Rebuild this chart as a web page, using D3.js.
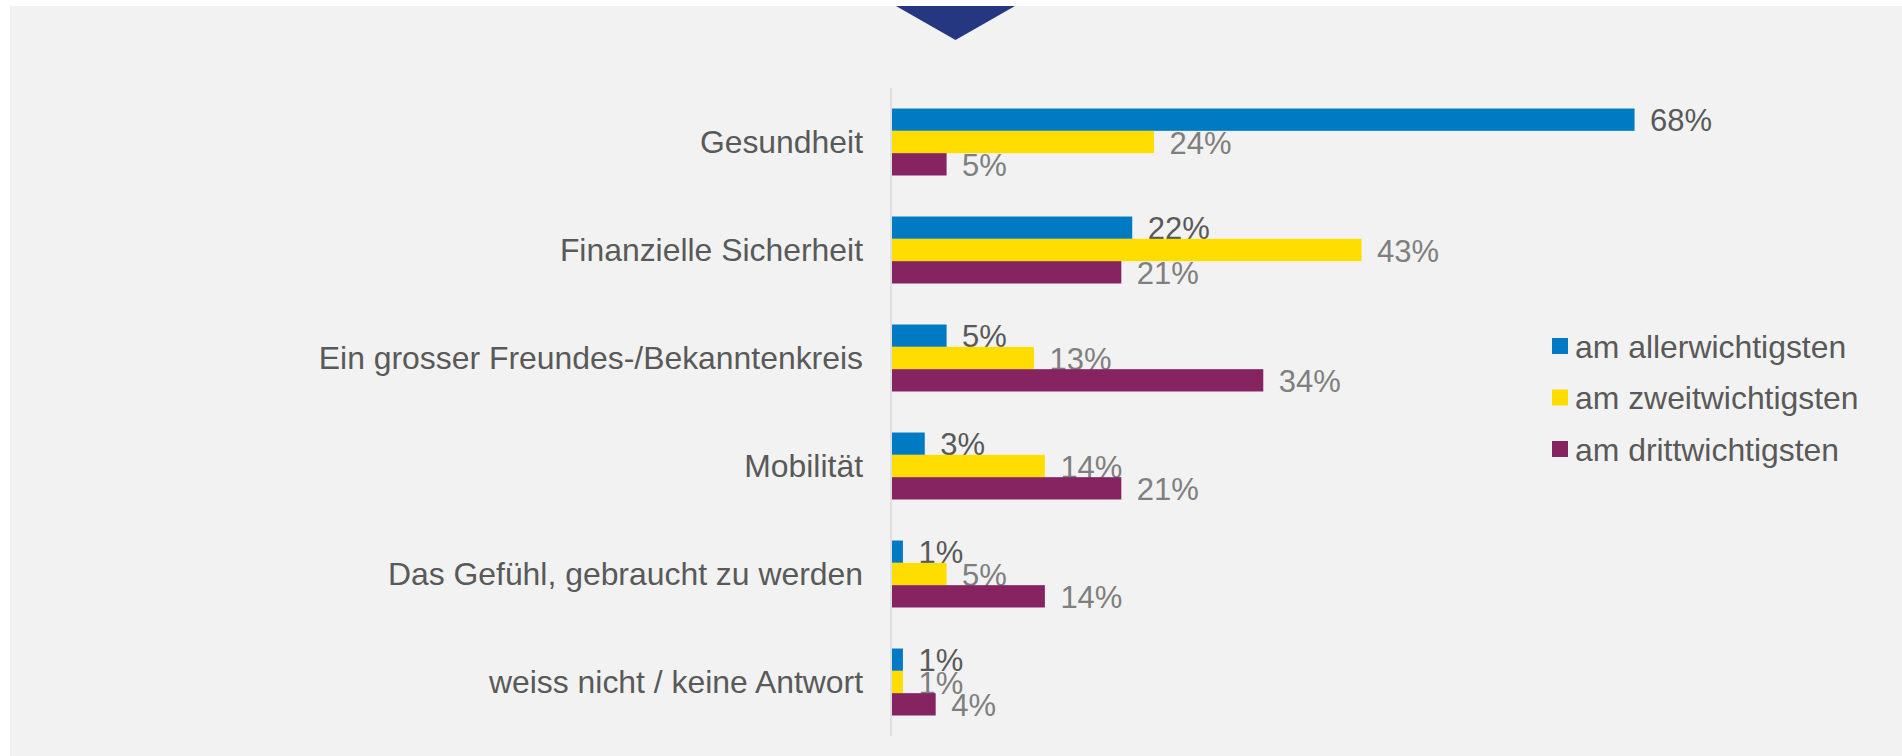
<!DOCTYPE html>
<html>
<head>
<meta charset="utf-8">
<script src="https://cdn.jsdelivr.net/npm/d3@7"></script>
<style>
  html, body { margin: 0; padding: 0; background: #ffffff; }
  svg { display: block; }
  text { font-family: "Liberation Sans", Arial, sans-serif; }
</style>
</head>
<body>
<script>
// ---- data ----
const categories = [
  "Gesundheit",
  "Finanzielle Sicherheit",
  "Ein grosser Freundes-/Bekanntenkreis",
  "Mobilität",
  "Das Gefühl, gebraucht zu werden",
  "weiss nicht / keine Antwort"
];
const seriesNames = ["am allerwichtigsten", "am zweitwichtigsten", "am drittwichtigsten"];
const allerwichtigsten = [68, 22, 5, 3, 1, 1];
const zweitwichtigsten = [24, 43, 13, 14, 5, 1];
const drittwichtigsten = [5, 21, 34, 21, 14, 4];
const seriesValues = [allerwichtigsten, zweitwichtigsten, drittwichtigsten];
const seriesColors = ["#007ac3", "#ffdd00", "#862461"];
const labelColors = ["#595959", "#7f7f7f", "#7f7f7f"];

// ---- layout ----
const W = 1902, H = 756;
const svg = d3.select("body").append("svg").attr("width", W).attr("height", H);

svg.append("rect").attr("x", 10).attr("y", 6).attr("width", W - 10).attr("height", H - 6).attr("fill", "#f2f2f2");

// triangle marker at top
svg.append("path")
  .attr("d", "M896,6 L1015,6 L955.5,40 Z")
  .attr("fill", "#253780");

const x = d3.scaleLinear().domain([0, 100]).range([892, 892 + 1092]);
const y = d3.scaleBand().domain(categories).range([88, 736]).paddingInner(0.38).paddingOuter(0.19);
const ys = d3.scaleBand().domain(seriesNames).range([0, y.bandwidth()]);

// axis line
svg.append("line")
  .attr("x1", 891).attr("x2", 891)
  .attr("y1", 88).attr("y2", 736)
  .attr("stroke", "#d9d9d9").attr("stroke-width", 1.5);

// category labels
svg.append("g").selectAll("text").data(categories).join("text")
  .attr("x", 863)
  .attr("y", d => y(d) + y.bandwidth() / 2 + 11)
  .attr("text-anchor", "end")
  .attr("font-size", 31.9)
  .attr("fill", "#595959")
  .text(d => d);

// bars + labels, series by series
seriesNames.forEach((s, si) => {
  const vals = seriesValues[si];
  const g = svg.append("g");
  g.selectAll("rect").data(vals).join("rect")
    .attr("x", x(0))
    .attr("y", (d, i) => y(categories[i]) + ys(s))
    .attr("width", d => x(d) - x(0))
    .attr("height", ys.bandwidth())
    .attr("fill", seriesColors[si]);
  g.selectAll("text").data(vals).join("text")
    .attr("x", d => x(d) + 15.5)
    .attr("y", (d, i) => y(categories[i]) + ys(s) + ys.bandwidth() / 2 + 11.5)
    .attr("font-size", 31)
    .attr("fill", labelColors[si])
    .text(d => d + "%");
});

// legend
const legend = svg.append("g");
seriesNames.forEach((s, i) => {
  const cy = 346 + i * 51.5;
  legend.append("rect")
    .attr("x", 1552).attr("y", cy - 8)
    .attr("width", 16).attr("height", 16)
    .attr("fill", seriesColors[i]);
  legend.append("text")
    .attr("x", 1575).attr("y", cy + 11.5)
    .attr("font-size", 31.9)
    .attr("fill", "#595959")
    .text(s);
});
</script>
</body>
</html>
